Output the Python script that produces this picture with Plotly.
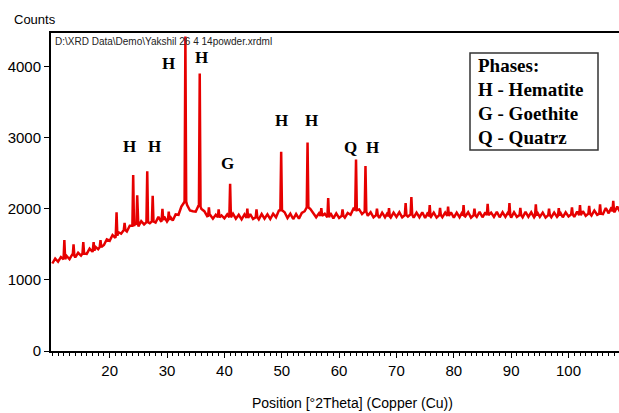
import plotly.graph_objects as go

# ---- data ----
scan_theta = [
    10.0, 10.5, 11.0, 11.5, 12.0, 12.5, 13.0, 13.5, 14.0, 14.5,
    15.0, 15.5, 16.0, 16.5, 17.0, 17.5, 18.0, 18.5, 19.0, 19.5,
    20.0, 20.5, 21.0, 21.5, 22.0, 22.5, 23.0, 23.5, 24.0, 24.5,
    25.0, 25.5, 26.0, 26.5, 27.0, 27.5, 28.0, 28.5, 29.0, 29.5,
    30.0, 30.5, 31.0, 31.5, 32.0, 32.5, 33.0, 33.5, 34.0, 34.5,
    35.0, 35.5, 36.0, 36.5, 37.0, 37.5, 38.0, 38.5, 39.0, 39.5,
    40.0, 40.5, 41.0, 41.5, 42.0, 42.5, 43.0, 43.5, 44.0, 44.5,
    45.0, 45.5, 46.0, 46.5, 47.0, 47.5, 48.0, 48.5, 49.0, 49.5,
    50.0, 50.5, 51.0, 51.5, 52.0, 52.5, 53.0, 53.5, 54.0, 54.5,
    55.0, 55.5, 56.0, 56.5, 57.0, 57.5, 58.0, 58.5, 59.0, 59.5,
    60.0, 60.5, 61.0, 61.5, 62.0, 62.5, 63.0, 63.5, 64.0, 64.5,
    65.0, 65.5, 66.0, 66.5, 67.0, 67.5, 68.0, 68.5, 69.0, 69.5,
    70.0, 70.5, 71.0, 71.5, 72.0, 72.5, 73.0, 73.5, 74.0, 74.5,
    75.0, 75.5, 76.0, 76.5, 77.0, 77.5, 78.0, 78.5, 79.0, 79.5,
    80.0, 80.5, 81.0, 81.5, 82.0, 82.5, 83.0, 83.5, 84.0, 84.5,
    85.0, 85.5, 86.0, 86.5, 87.0, 87.5, 88.0, 88.5, 89.0, 89.5,
    90.0, 90.5, 91.0, 91.5, 92.0, 92.5, 93.0, 93.5, 94.0, 94.5,
    95.0, 95.5, 96.0, 96.5, 97.0, 97.5, 98.0, 98.5, 99.0, 99.5,
    100.0, 100.5, 101.0, 101.5, 102.0, 102.5, 103.0, 103.5, 104.0, 104.5,
    105.0, 105.5, 106.0, 106.5, 107.0, 107.5, 108.0, 108.5, 109.0, 109.5,
    110.0,
]
scan_counts = [
    1230, 1300, 1255, 1320, 1270, 1335, 1290, 1360, 1315, 1380,
    1340, 1410, 1365, 1440, 1395, 1465, 1430, 1505, 1490, 1570,
    1550, 1630, 1590, 1670, 1650, 1725, 1680, 1760, 1720, 1795,
    1750, 1825, 1780, 1850, 1795, 1870, 1805, 1885, 1815, 1890,
    1820, 1895, 1835, 1920, 1915, 2030, 2090, 2050, 1975, 1965,
    1960, 2045, 1995, 1965, 1895, 1915, 1860, 1915, 1850, 1905,
    1865, 1920, 1845, 1930, 1860, 1915, 1850, 1920, 1845, 1925,
    1855, 1915, 1850, 1925, 1860, 1920, 1855, 1930, 1880, 1975,
    2020, 1950, 1870, 1930, 1855, 1925, 1860, 1940, 1965, 2060,
    1995, 1945, 1880, 1935, 1860, 1930, 1870, 1940, 1865, 1935,
    1870, 1935, 1875, 1940, 1915, 2000, 1950, 1990, 1925, 2000,
    1900, 1950, 1880, 1945, 1870, 1945, 1880, 1950, 1875, 1945,
    1885, 1950, 1880, 1955, 1890, 1960, 1875, 1945, 1880, 1950,
    1870, 1950, 1885, 1945, 1875, 1955, 1880, 1945, 1885, 1950,
    1875, 1945, 1880, 1955, 1890, 1950, 1875, 1945, 1885, 1955,
    1880, 1950, 1875, 1945, 1885, 1955, 1880, 1950, 1885, 1955,
    1875, 1950, 1885, 1945, 1880, 1955, 1885, 1950, 1880, 1955,
    1885, 1945, 1875, 1950, 1880, 1945, 1885, 1955, 1880, 1950,
    1890, 1955, 1885, 1960, 1895, 1965, 1900, 1970, 1905, 1975,
    1915, 1990, 1925, 2010, 1935, 2020, 1950, 2030, 1955, 2025,
    1960,
]

peak_theta = [12.1, 13.7, 15.4, 17.2, 18.4, 21.2, 22.6, 24.1, 24.8, 26.55,
              27.5, 29.2, 30.3, 33.2, 35.7, 37.3, 39.0, 41.0, 44.0, 45.6,
              49.9, 54.5, 56.9, 58.1, 60.6, 62.95, 64.6, 66.6, 68.7, 71.6,
              72.6, 75.8, 77.6, 79.0, 81.7, 83.6, 85.9, 89.7, 91.6, 94.3,
              96.6, 98.3, 100.6, 102.0, 103.6, 105.5, 107.8, 109.2]
peak_top = [1560, 1500, 1530, 1530, 1560, 1950, 1800, 2475, 2190, 2525,
            2180, 2000, 1960, 4420, 3900, 2020, 1990, 2350, 2000, 1990,
            2800, 2930, 2010, 2150, 1990, 2690, 2600, 2000, 2010, 2080,
            2165, 2050, 2010, 2030, 2050, 2000, 2070, 2080, 2010, 2060,
            2000, 2010, 2020, 2050, 2040, 2060, 2110, 2090]
peak_foot = [1290, 1340, 1370, 1410, 1460, 1620, 1700, 1760, 1790, 1810,
             1820, 1840, 1840, 2100, 2030, 1900, 1880, 1880, 1870, 1880,
             1980, 2020, 1900, 1880, 1900, 1980, 1960, 1910, 1890, 1910,
             1920, 1890, 1910, 1900, 1900, 1910, 1910, 1910, 1910, 1900,
             1910, 1900, 1920, 1910, 1930, 1930, 1960, 1980]

label_text = ["H", "H", "H", "H", "G", "H", "H", "Q", "H"]
label_theta = [23.5, 27.8, 30.2, 36.05, 40.6, 50.0, 55.1, 62.0, 65.9]
label_counts = [2868, 2868, 4048, 4119, 2629, 3247, 3247, 2854, 2854]

x_ticks = [20, 30, 40, 50, 60, 70, 80, 90, 100]
y_ticks = [0, 1000, 2000, 3000, 4000]

legend_lines = ["Phases:", "H - Hematite", "G - Goethite", "Q - Quatrz"]

# ---- build the pattern ----
HALF = 0.14
pts = []
for t, c in zip(scan_theta, scan_counts):
    if all(abs(t - p) > HALF for p in peak_theta):
        pts.append((t, c))
for p, top, foot in zip(peak_theta, peak_top, peak_foot):
    pts.append((p - HALF, foot))
    pts.append((p, top))
    pts.append((p + HALF, foot))
pts.sort(key=lambda q: q[0])
xs = [q[0] for q in pts]
ys = [q[1] for q in pts]

NARROW = "Liberation Sans Narrow, Arial Narrow, Liberation Sans, Arial, sans-serif"
SERIF = "Liberation Serif, Times New Roman, serif"

fig = go.Figure()
fig.add_trace(go.Scatter(x=xs, y=ys, mode="lines",
                         line=dict(color="#e60000", width=2.5),
                         hoverinfo="skip", showlegend=False))

# plot area in pixels: x 51..619, y 33..351
def px(x):
    return (x - 51) / 568.0

def py(y):
    return (351 - y) / 318.0

ann = []
for t, xv, yv in zip(label_text, label_theta, label_counts):
    ann.append(dict(x=xv, y=yv, xref="x", yref="y", text="<b>%s</b>" % t,
                    showarrow=False, font=dict(family=SERIF, size=17, color="black"),
                    xanchor="center", yanchor="middle"))

leg_y = [65, 90, 113, 137]
for txt, yy in zip(legend_lines, leg_y):
    ann.append(dict(x=px(476), y=py(yy), xref="paper", yref="paper",
                    text="<b>%s</b>" % txt, showarrow=False,
                    font=dict(family=SERIF, size=19, color="black"),
                    xanchor="left", yanchor="middle"))

ann.append(dict(x=px(12), y=py(19), xref="paper", yref="paper", text="Counts",
                showarrow=False, font=dict(family=NARROW, size=13, color="black"),
                xanchor="left", yanchor="middle"))
ann.append(dict(x=px(53), y=py(41), xref="paper", yref="paper",
                text="D:\\XRD Data\\Demo\\Yakshil 26 4 14powder.xrdml",
                showarrow=False, font=dict(family=NARROW, size=10, color="#222"),
                xanchor="left", yanchor="middle"))
ann.append(dict(x=px(352), y=py(403), xref="paper", yref="paper",
                text="Position [°2Theta] (Copper (Cu))",
                showarrow=False, font=dict(family=NARROW, size=14, color="black"),
                xanchor="center", yanchor="middle"))

shapes = [dict(type="rect", xref="paper", yref="paper",
               x0=px(470), x1=px(598), y0=py(150), y1=py(53),
               line=dict(color="#333", width=1.5), fillcolor="white", layer="below")]

fig.update_layout(
    width=619, height=413,
    margin=dict(l=51, r=0, t=33, b=62),
    paper_bgcolor="white", plot_bgcolor="white",
    annotations=ann, shapes=shapes,
    xaxis=dict(range=[9.77, 108.8], tickvals=x_ticks, ticks="outside", ticklen=5,
               tickcolor="black", showline=True, linecolor="black", linewidth=2,
               mirror=True, showgrid=False, zeroline=False,
               tickfont=dict(family=NARROW, size=15, color="black"),
               minor=dict(dtick=1, ticks="outside", ticklen=3, tickcolor="black")),
    yaxis=dict(range=[0, 4470], tickvals=y_ticks, ticks="outside", ticklen=5,
               tickcolor="black", showline=True, linecolor="black", linewidth=2,
               showgrid=False, zeroline=False,
               tickfont=dict(family=NARROW, size=15, color="black")),
)

fig.write_html("out.html", config={"displayModeBar": False},
               post_script="document.body.style.margin='0';document.body.style.overflow='hidden';")
